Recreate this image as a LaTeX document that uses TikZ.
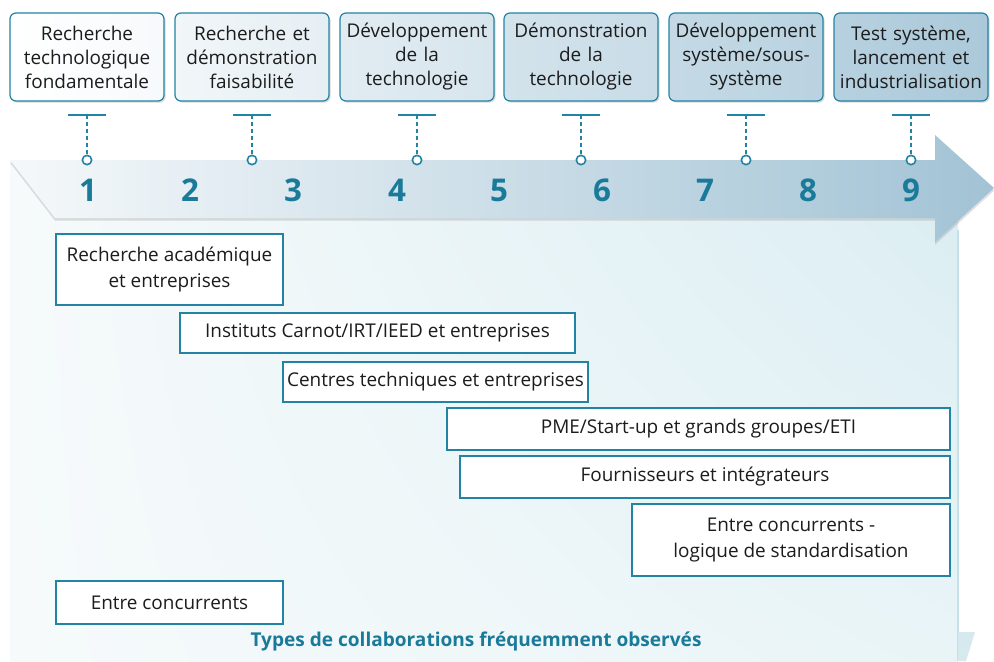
\documentclass[tikz,border=0pt]{standalone}
\usepackage{fontspec}
\setmainfont{Open Sans}
\usepackage{xcolor}
\usepackage{tikz}
\usetikzlibrary{shadows, shadings, calc}
\definecolor{primary}{HTML}{2383A4}
\definecolor{accent}{HTML}{1A7A9A}
\definecolor{ink}{HTML}{1C1C1C}
\definecolor{bandL}{HTML}{F5F8FA}
\definecolor{bandR}{HTML}{A2C3D5}
\definecolor{boxR}{HTML}{ABC9DA}
\definecolor{panelA}{HTML}{DAEDF2}
\definecolor{panelB}{HTML}{F6FAFB}
\definecolor{panelE}{HTML}{C4E0E8}
\tikzset{
    phase/.style={rectangle, draw=primary, rounded corners=4.5pt, line width=0.9pt, text width=114pt, align=center, minimum width=115.5pt, minimum height=66pt, inner sep=0pt, text=ink, font=\fontsize{14.2}{18}\selectfont, drop shadow={shadow xshift=1.2pt, shadow yshift=-1.2pt, opacity=0.3}},
    collab/.style={rectangle, draw=primary, fill=white, line width=0.9pt, align=center, inner sep=0pt, text=ink, font=\fontsize{14.2}{19.5}\selectfont},
    level/.style={text=accent, font=\fontsize{23.5}{23.5}\bfseries\selectfont},
    dot/.style={circle, draw=primary, fill=white, line width=1.2pt, minimum size=7pt, inner sep=0pt},
    bar/.style={primary, line width=1pt},
    link/.style={primary, line width=1pt, dash pattern=on 3pt off 2.2pt}
}
\begin{document}
\begin{tikzpicture}[x=0.75pt, y=-0.75pt]
    \useasboundingbox (0,0) rectangle (994,661);

    % panel behind the collaborations
    \shade[upper left=panelB, upper right=panelA, lower left=panelB, lower right=panelA!60!white] (10,160) rectangle (958,661);
    \draw[panelE, line width=1.5pt] (958,230) -- (958,661);
    \fill[panelE!70!white] (958,632) -- (975,632) -- (966,661) -- (958,661) -- cycle;

    % TRL arrow
    \path[left color=bandL, right color=bandR, drop shadow={shadow xshift=0pt, shadow yshift=-2pt, opacity=0.25}]
        (10,160) -- (935,160) -- (935,135) -- (994,188) -- (935,242) -- (935,218) -- (55,218) -- cycle;

    \node [level] (n1) at (88,190) {1};
    \node [level] (n2) at (190,190) {2};
    \node [level] (n3) at (293,190) {3};
    \node [level] (n4) at (397,190) {4};
    \node [level] (n5) at (499,190) {5};
    \node [level] (n6) at (602,190) {6};
    \node [level] (n7) at (705,190) {7};
    \node [level] (n8) at (808,190) {8};
    \node [level] (n9) at (911,190) {9};

    % phases
    \node [phase, left color=white, right color=boxR!10] (p1) at (87,57) {Recherche\\technologique\\fondamentale};
    \node [phase, left color=boxR!17, right color=boxR!30] (p2) at (252,57) {Recherche et\\démonstration\\faisabilité};
    \node [phase, left color=boxR!35, right color=boxR!48] (p3) at (417,57) {Développement\\de la\\technologie};
    \node [phase, left color=boxR!52, right color=boxR!65] (p4) at (581,57) {Démonstration\\de la\\technologie};
    \node [phase, left color=boxR!70, right color=boxR!82] (p5) at (746,57) {Développement\\système/sous-\\système};
    \node [phase, left color=boxR!86, right color=boxR] (p6) at (911,57) {Test système,\\lancement et\\industrialisation};

    \coordinate (t1) at (87,115);
    \coordinate (t2) at (252,115);
    \coordinate (t3) at (417,115);
    \coordinate (t4) at (581,115);
    \coordinate (t5) at (746,115);
    \coordinate (t6) at (911,115);
    \node [dot] (d1) at (87,160) {};
    \node [dot] (d2) at (252,160) {};
    \node [dot] (d3) at (417,160) {};
    \node [dot] (d4) at (581,160) {};
    \node [dot] (d5) at (746,160) {};
    \node [dot] (d6) at (911,160) {};

    \draw [bar] ([xshift=-14pt]t1) -- ([xshift=14pt]t1);
    \draw [bar] ([xshift=-14pt]t2) -- ([xshift=14pt]t2);
    \draw [bar] ([xshift=-14pt]t3) -- ([xshift=14pt]t3);
    \draw [bar] ([xshift=-14pt]t4) -- ([xshift=14pt]t4);
    \draw [bar] ([xshift=-14pt]t5) -- ([xshift=14pt]t5);
    \draw [bar] ([xshift=-14pt]t6) -- ([xshift=14pt]t6);
    \draw [link] (t1) -- (d1);
    \draw [link] (t2) -- (d2);
    \draw [link] (t3) -- (d3);
    \draw [link] (t4) -- (d4);
    \draw [link] (t5) -- (d5);
    \draw [link] (t6) -- (d6);

    % collaborations
    \node [collab, minimum width=170.25pt, minimum height=53.25pt] (c1) at (169.5,269.5) {Recherche académique\\et entreprises};
    \node [collab, minimum width=296.25pt, minimum height=30pt] (c2) at (377.5,333) {Instituts Carnot/IRT/IEED et entreprises};
    \node [collab, minimum width=228.75pt, minimum height=30pt] (c3) at (435.5,382) {Centres techniques et entreprises};
    \node [collab, minimum width=377.25pt, minimum height=31.5pt] (c4) at (698.5,429) {PME/Start-up et grands groupes/ETI};
    \node [collab, minimum width=367.5pt, minimum height=31.5pt] (c5) at (705,477) {Fournisseurs et intégrateurs};
    \node [collab, minimum width=238.5pt, minimum height=54pt] (c6) at (791,540) {Entre concurrents -\\logique de standardisation};
    \node [collab, minimum width=170.25pt, minimum height=32.25pt] (c7) at (169.5,602.5) {Entre concurrents};

    \node [text=accent, font=\fontsize{14.3}{14.3}\bfseries\selectfont] (title) at (476,641) {Types de collaborations fréquemment observés};
\end{tikzpicture}
\end{document}
